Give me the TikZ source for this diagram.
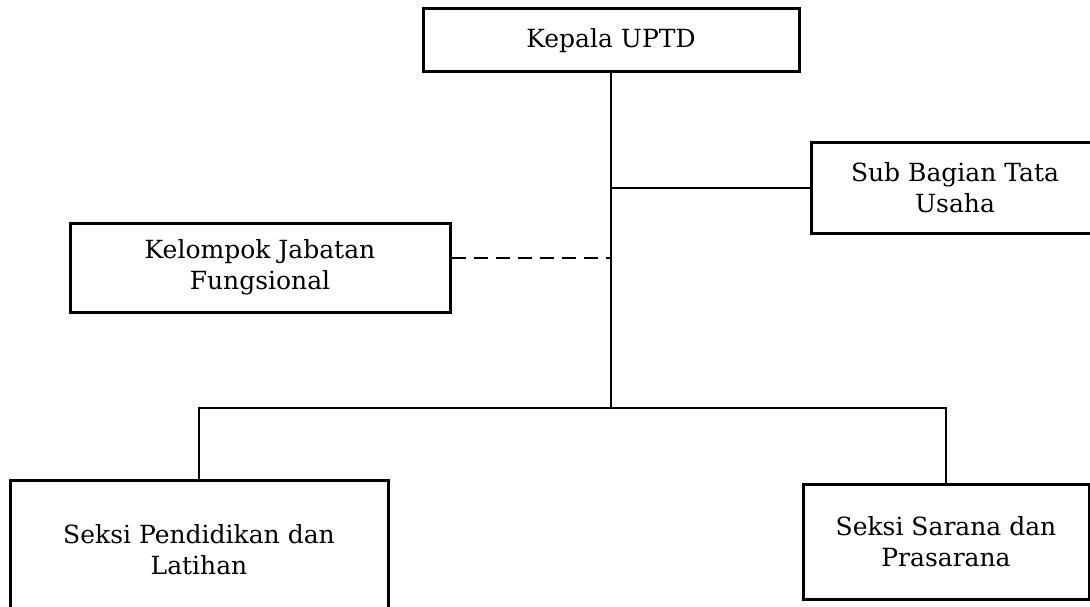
\documentclass[tikz,border=0pt]{standalone}
\usepackage{fontspec}
\setmainfont{DejaVu Serif}
\tikzset{
  unitbox/.style={draw, line width=3pt, align=center, inner sep=0pt,
    font=\fontsize{25}{31}\selectfont},
  conn/.style={line width=2pt},
  dashconn/.style={line width=2pt, dash pattern=on 14pt off 8pt}
}
\begin{document}
\begin{tikzpicture}[x=1pt,y=-1pt]
\clip (0,0) rectangle (1090,607);
\fill[white] (0,0) rectangle (1090,607);
\node[unitbox, minimum width=376pt, minimum height=63pt] (kepala) at (611,40.5) {Kepala UPTD};
\node[unitbox, minimum width=288pt, minimum height=90pt] (sub) at (955,188) {Sub Bagian Tata\\Usaha};
\node[unitbox, minimum width=380pt, minimum height=89pt] (kel) at (260,267.5) {Kelompok Jabatan\\Fungsional};
\node[unitbox, minimum width=378pt, minimum height=140pt] (pend) at (199,550) {Seksi Pendidikan dan\\Latihan};
\node[unitbox, minimum width=286pt, minimum height=115pt] (sar) at (946,541.5) {Seksi Sarana dan\\Prasarana};
\coordinate (bus) at (611,408);
\draw[conn] (kepala.south) -- (bus);
\draw[conn] (sub.west) -- (sub.west -| kepala.south);
\draw[dashconn] ([yshift=9.5pt]kel.east) -- ([yshift=9.5pt]kel.east -| kepala.south);
\draw[conn] (bus) -| (pend.north);
\draw[conn] (bus) -| (sar.north);
\end{tikzpicture}
\end{document}
